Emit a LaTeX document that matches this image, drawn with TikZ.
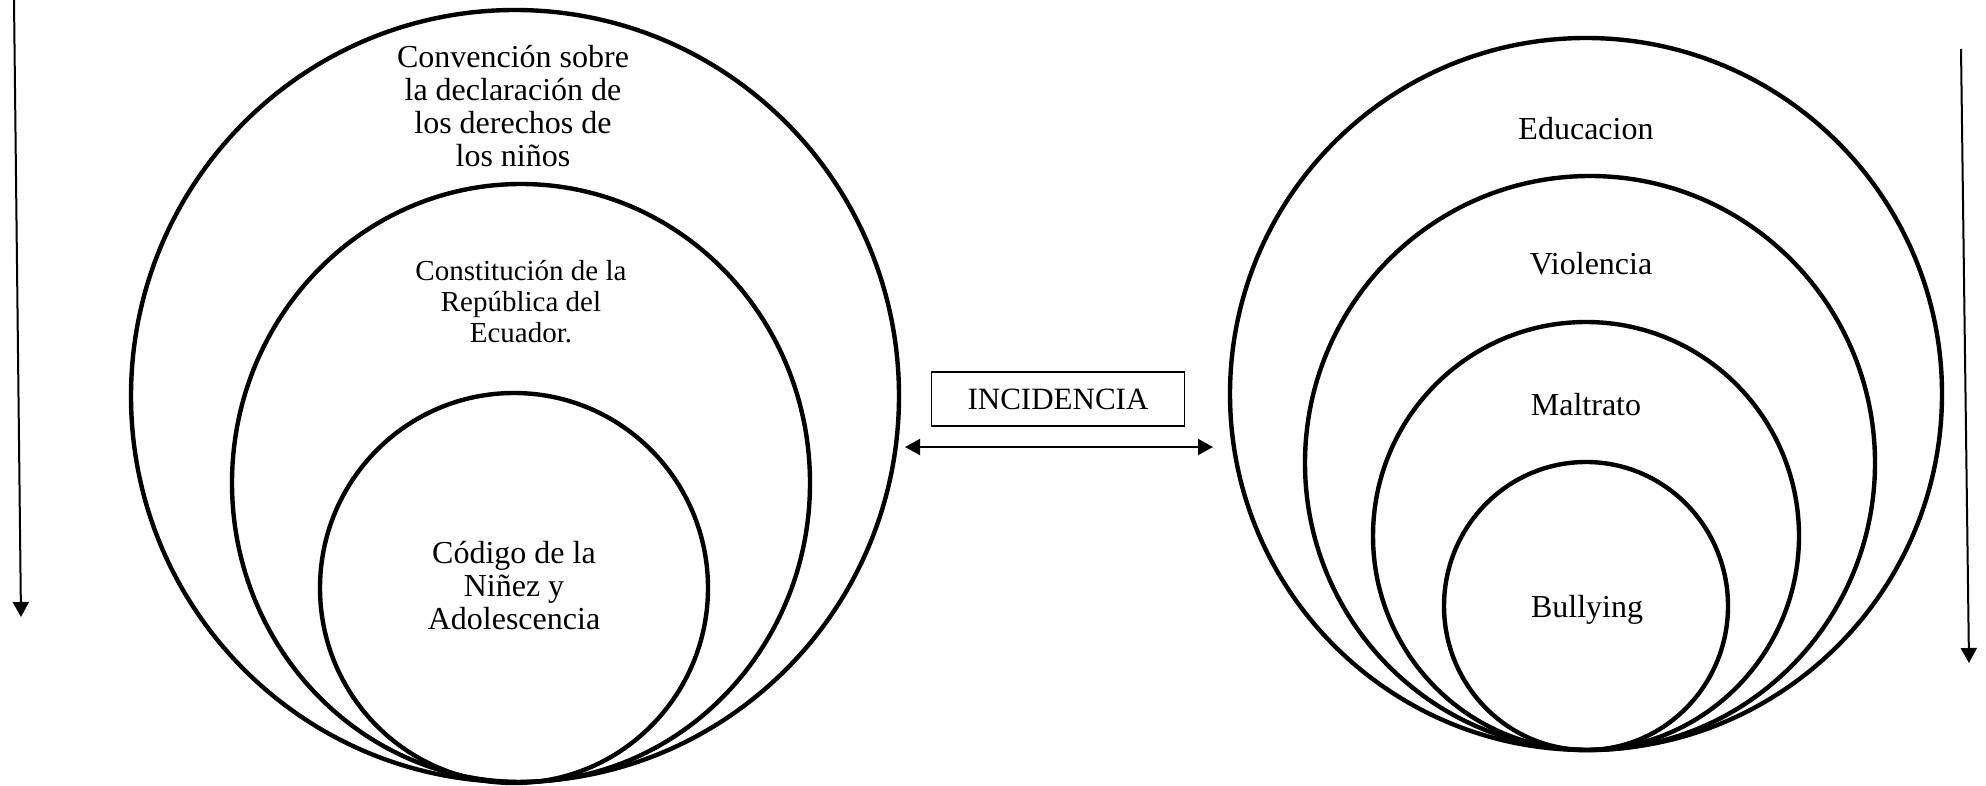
\documentclass[tikz,border=0pt]{standalone}
\usepackage{fontspec}
\setmainfont{Liberation Serif}
\usepackage{tikz}
\usetikzlibrary{shapes.geometric, arrows.meta, positioning}

\begin{document}
\begin{tikzpicture}[x=0.5pt, y=-0.5pt,
        ring/.style={draw, ellipse, line width=2.2pt, inner sep=0pt, outer sep=0pt},
        texto/.style={align=center, font=\fontsize{16}{16.5}\selectfont},
        flecha/.style={line width=1pt, -{Triangle[length=7.5pt, width=8pt]}},
        doble/.style={line width=1pt, {Triangle[length=7.5pt, width=8pt]}-{Triangle[length=7.5pt, width=8pt]}}]
        \useasboundingbox (0,0) rectangle (1986,786);

        % Draw the left rings
        \node[ring, minimum width=384pt, minimum height=386pt] (conv) at (515,396) {};
        \node[ring, minimum width=289pt, minimum height=299pt] (const) at (521,483) {};
        \node[ring, minimum width=194pt, minimum height=195pt] (cod) at (514,588) {};

        % Draw the right rings
        \node[ring, minimum width=356pt, minimum height=356pt] (edu) at (1586,394) {};
        \node[ring, minimum width=285pt, minimum height=287pt] (vio) at (1590,463) {};
        \node[ring, minimum width=213pt, minimum height=214pt] (mal) at (1586,536) {};
        \node[ring, minimum width=142pt, minimum height=144pt] (bul) at (1586,606) {};

        % Texts of the rings
        \node[texto] (tconv) at (513,106) {Convención sobre\\la declaración de\\los derechos de\\los niños};
        \node[texto, font=\fontsize{14.5}{15.5}\selectfont] (tconst) at (521,302) {Constitución de la\\República del\\Ecuador.};
        \node[texto] (tcod) at (514,586) {Código de la\\Niñez y\\Adolescencia};
        \node[texto] (tedu) at (1586,129) {Educacion};
        \node[texto] (tvio) at (1591,264) {Violencia};
        \node[texto] (tmal) at (1586,405) {Maltrato};
        \node[texto] (tbul) at (1587,610) {Bullying};

        % Middle box and arrows
        \node[draw, line width=0.7pt, minimum width=126.5pt, minimum height=27pt,
              font=\fontsize{15.5}{16}\selectfont] (inc) at (1058,399) {INCIDENCIA};
        \coordinate (izq) at (905,447);
        \coordinate (der) at (1213,447);
        \coordinate (arr1) at (14,0);
        \coordinate (abj1) at (21,617);
        \coordinate (arr2) at (1961,49);
        \coordinate (abj2) at (1969,663);
        \draw[doble] (izq) -- (der);
        \draw[flecha] (arr1) -- (abj1);
        \draw[flecha] (arr2) -- (abj2);
\end{tikzpicture}
\end{document}
